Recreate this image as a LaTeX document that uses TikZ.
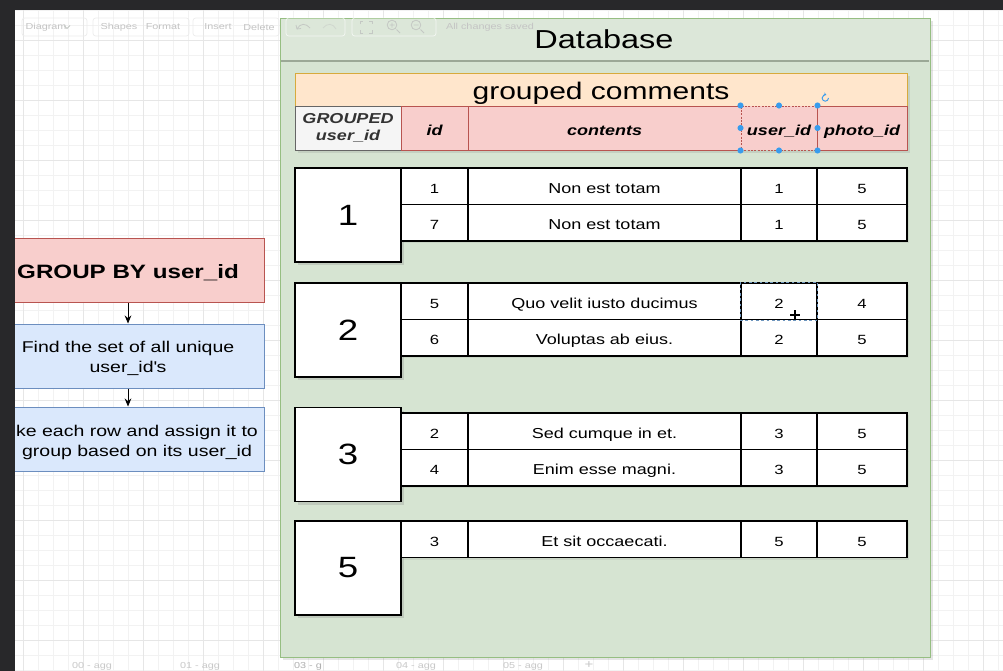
\documentclass[tikz,border=0pt]{standalone}
\usepackage{fontspec}
\setmainfont{Liberation Sans}[FakeStretch=1.25]
\usetikzlibrary{shadows,arrows.meta}

\begin{document}
\begin{tikzpicture}[x=0.75pt,y=0.75pt,yscale=-1,xscale=1,
  minorgrid/.style={draw={rgb,255:red,242;green,242;blue,242},line width=0.4pt},
  majorgrid/.style={draw={rgb,255:red,230;green,230;blue,230},line width=0.5pt},
  toolbox/.style={draw={rgb,255:red,236;green,236;blue,236},line width=0.5pt,rounded corners=2pt},
  tooltext/.style={text={rgb,255:red,196;green,196;blue,196},font=\fontsize{6.5}{8}\selectfont,inner sep=0pt},
  toolicon/.style={draw={rgb,255:red,196;green,200;blue,196},line width=0.6pt},
  redbox/.style={draw={rgb,255:red,184;green,84;blue,80},fill={rgb,255:red,248;green,206;blue,204},line width=0.75pt,minimum width=204pt,minimum height=48pt,inner sep=0pt,text height=12pt,text depth=0pt,font=\fontsize{14.5}{17}\selectfont\bfseries},
  bluebox/.style={draw={rgb,255:red,108;green,142;blue,191},fill={rgb,255:red,218;green,232;blue,252},line width=0.75pt,minimum width=204pt,minimum height=48pt,inner sep=0pt},
  boxtext/.style={align=center,inner sep=0pt,font=\fontsize{11.7}{15}\selectfont},
  flow/.style={-{Stealth[length=6pt,width=5pt]},line width=0.75pt},
  dbpanel/.style={draw={rgb,255:red,150;green,190;blue,130},fill={rgb,255:red,214;green,228;blue,210},line width=0.75pt,minimum width=487.5pt,minimum height=479.25pt,inner sep=0pt,drop shadow={shadow xshift=2.5pt,shadow yshift=-2.5pt,opacity=0.2}},
  dbtitle/.style={inner sep=0pt,font=\fontsize{19.5}{22}\selectfont},
  titlebar/.style={draw={rgb,255:red,215;green,170;blue,60},fill={rgb,255:red,255;green,230;blue,204},line width=0.75pt,minimum width=459pt,minimum height=24.75pt,inner sep=0pt,text height=15pt,text depth=0pt,font=\fontsize{18}{20}\selectfont,drop shadow={shadow xshift=2pt,shadow yshift=-2pt,opacity=0.2}},
  headcell/.style={draw={rgb,255:red,184;green,84;blue,80},fill={rgb,255:red,248;green,206;blue,204},line width=0.75pt,minimum height=33pt,inner sep=0pt,align=center,font=\fontsize{10.8}{12.5}\selectfont\bfseries\itshape,drop shadow={shadow xshift=2pt,shadow yshift=-2pt,opacity=0.2}},
  onehead/.style={headcell,text height=10.5pt,text depth=0pt},
  greyhead/.style={headcell,draw={rgb,255:red,102;green,102;blue,102},fill={rgb,255:red,245;green,245;blue,245},text={rgb,255:red,51;green,51;blue,51}},
  cell/.style={draw,line width=0.9pt,fill=white,minimum height=27.4pt,inner sep=0pt,text height=10.5pt,text depth=0pt,font=\fontsize{10}{12}\selectfont,drop shadow={shadow xshift=1.5pt,shadow yshift=-1.5pt,opacity=0.15}},
  idcell/.style={cell,minimum width=50.25pt},
  txtcell/.style={cell,minimum width=204.75pt,font=\fontsize{10.8}{12}\selectfont},
  uidcell/.style={cell,minimum width=57pt},
  pidcell/.style={cell,minimum width=67.5pt},
  groupcell/.style={draw,line width=0.9pt,fill=white,minimum width=79.5pt,minimum height=70.5pt,inner sep=0pt,font=\fontsize{22}{24}\selectfont,drop shadow={shadow xshift=2.5pt,shadow yshift=-2.5pt,opacity=0.25}},
  handle/.style={fill={rgb,255:red,56;green,156;blue,237}},
  selbox/.style={draw={rgb,255:red,110;green,150;blue,190},line width=0.4pt,dash pattern=on 2pt off 2pt},
  tabtext/.style={text={rgb,255:red,200;green,200;blue,200},font=\fontsize{6.5}{8}\selectfont,inner sep=0pt}
]

%Canvas and grid
\clip (0,0) rectangle (1003,671);
\fill[white] (0,0) rectangle (1003,671);
\foreach \gx in {23,38,...,1003} \draw[minorgrid] (\gx,10) -- (\gx,671);
\foreach \gy in {10,25,...,671} \draw[minorgrid] (15,\gy) -- (1003,\gy);
\foreach \gx in {23,83,...,1003} \draw[majorgrid] (\gx,10) -- (\gx,671);
\foreach \gy in {40,100,...,671} \draw[majorgrid] (15,\gy) -- (1003,\gy);

%Toolbar buttons
\draw[toolbox] (22,18) rectangle (87,36);
\draw[toolbox] (93,18) rectangle (189,36);
\draw[toolbox] (193,18) rectangle (279,36);
\node[tooltext] (tbdiagram) at (46,27) {Diagram};
\draw[toolicon] (64,25.5) -- (67,28.5) -- (70,25.5);
\node[tooltext] (tbshapes) at (119,27) {Shapes};
\node[tooltext] (tbformat) at (163,27) {Format};
\node[tooltext] (tbinsert) at (218,27) {Insert};
\node[tooltext] (tbdelete) at (259,27) {Delete};

%Steps on the left
\node[redbox] (groupby) at (128,270) {GROUP BY user\_id};
\node[bluebox] (findset) at (128,356) {};
\node[boxtext] (findtxt) at (128,358) {Find the set of all unique\\user\_id\textquotesingle s};
\node[bluebox] (assign) at (128,439) {};
\node[boxtext] (assigntxt) at (137,442) {ke each row and assign it to\\group based on its user\_id};
\draw[flow] (groupby) -- (findset);
\draw[flow] (findset) -- (assign);

%Window frame
\fill[fill={rgb,255:red,40;green,40;blue,42}] (0,0) rectangle (1003,10);
\fill[fill={rgb,255:red,40;green,40;blue,42}] (0,0) rectangle (15,671);

%Database panel
\node[dbpanel] (db) at (605,337.5) {};
\fill[fill={rgb,255:red,220;green,231;blue,217}] (280.5,18.5) rectangle (929.5,60);
\draw[line width=1.6pt,color={rgb,255:red,155;green,168;blue,150}] (281,61) -- (929,61);
\node[dbtitle] (dbname) at (604,39) {Database};

%Toolbar over the panel
\draw[toolbox,draw=white,opacity=0.7] (286,18) rectangle (345,36);
\draw[toolbox,draw=white,opacity=0.7] (352,18) rectangle (436,36);
\draw[toolicon] (297,29) .. controls (300,23) and (306,23) .. (310,28);
\draw[toolicon] (296,25) -- (297,29) -- (301,28.5);
\draw[toolicon,opacity=0.5] (336,29) .. controls (333,23) and (327,23) .. (323,28);
\draw[toolicon] (360,24) -- (360,21) -- (363,21) (369,21) -- (372,21) -- (372,24) (372,30) -- (372,33) -- (369,33) (363,33) -- (360,33) -- (360,30);
\draw[toolicon] (392,25) circle (3.6pt) (396.5,29.5) -- (400,33) (389.5,25) -- (394.5,25) (392,22.5) -- (392,27.5);
\draw[toolicon] (416,25) circle (3.6pt) (420.5,29.5) -- (424,33) (413.5,25) -- (418.5,25);
\node[tooltext] (tbsaved) at (490,27) {All changes saved};

%Grouped table
\node[titlebar] (gc) at (601,89.5) {grouped comments};
\node[greyhead,minimum width=79.5pt] (hgrp) at (348,128) {GROUPED\\user\_id};
\node[onehead,minimum width=50.25pt] (hid) at (434.5,128) {id};
\node[onehead,minimum width=204.75pt] (hcont) at (604.5,128) {contents};
\node[onehead,minimum width=57pt,dash pattern=on 1.5pt off 1pt] (huid) at (779,128) {user\_id};
\node[onehead,minimum width=67.5pt] (hpid) at (862,128) {photo\_id};

%Group 1
\node[groupcell] (grp1) at (348,215) {1};
\node[idcell] (r1id) at (434.5,186.25) {1};
\node[txtcell] (r1txt) at (604.5,186.25) {Non est totam};
\node[uidcell] (r1uid) at (779,186.25) {1};
\node[pidcell] (r1pid) at (862,186.25) {5};
\node[idcell] (r2id) at (434.5,222.75) {7};
\node[txtcell] (r2txt) at (604.5,222.75) {Non est totam};
\node[uidcell] (r2uid) at (779,222.75) {1};
\node[pidcell] (r2pid) at (862,222.75) {5};

%Group 2
\node[groupcell] (grp2) at (348,330) {2};
\node[idcell] (r3id) at (434.5,301.25) {5};
\node[txtcell] (r3txt) at (604.5,301.25) {Quo velit iusto ducimus};
\node[uidcell] (r3uid) at (779,301.25) {2};
\node[pidcell] (r3pid) at (862,301.25) {4};
\node[idcell] (r4id) at (434.5,337.75) {6};
\node[txtcell] (r4txt) at (604.5,337.75) {Voluptas ab eius.};
\node[uidcell] (r4uid) at (779,337.75) {2};
\node[pidcell] (r4pid) at (862,337.75) {5};

%Group 3
\node[groupcell] (grp3) at (348,454.5) {3};
\node[idcell] (r5id) at (434.5,431.25) {2};
\node[txtcell] (r5txt) at (604.5,431.25) {Sed cumque in et.};
\node[uidcell] (r5uid) at (779,431.25) {3};
\node[pidcell] (r5pid) at (862,431.25) {5};
\node[idcell] (r6id) at (434.5,467.75) {4};
\node[txtcell] (r6txt) at (604.5,467.75) {Enim esse magni.};
\node[uidcell] (r6uid) at (779,467.75) {3};
\node[pidcell] (r6pid) at (862,467.75) {5};

%Group 5
\node[groupcell] (grp5) at (348,568) {5};
\node[idcell] (r7id) at (434.5,539.25) {3};
\node[txtcell] (r7txt) at (604.5,539.25) {Et sit occaecati.};
\node[uidcell] (r7uid) at (779,539.25) {5};
\node[pidcell] (r7pid) at (862,539.25) {5};

%Selection handles
\fill[handle] (huid.north west) circle (2.3pt) (huid.north) circle (2.3pt) (huid.north east) circle (2.3pt)
  (huid.west) circle (2.3pt) (huid.east) circle (2.3pt)
  (huid.south west) circle (2.3pt) (huid.south) circle (2.3pt) (huid.south east) circle (2.3pt);
\draw[handle,draw={rgb,255:red,56;green,156;blue,237},fill=none,line width=0.7pt,-{Stealth[length=2pt,width=2.5pt]}] (828.5,98) arc[start angle=0,end angle=290,radius=2.4pt];
\draw[selbox] (r3uid.north west) rectangle (r3uid.south east);
\draw[line width=0.9pt] (790,315) -- (800,315) (795,310) -- (795,320);

%Page tabs
\node[tabtext] (tab0) at (92,666) {00 - agg};
\node[tabtext] (tab1) at (200,666) {01 - agg};
\node[tabtext,text={rgb,255:red,175;green,175;blue,175}] (tab3) at (308,666) {03 - g};
\node[tabtext] (tab4) at (416,666) {04 - agg};
\node[tabtext] (tab5) at (523,666) {05 - agg};
\node[tabtext,font=\fontsize{9}{10}\selectfont] (tabadd) at (589,665) {+};

\end{tikzpicture}
\end{document}
